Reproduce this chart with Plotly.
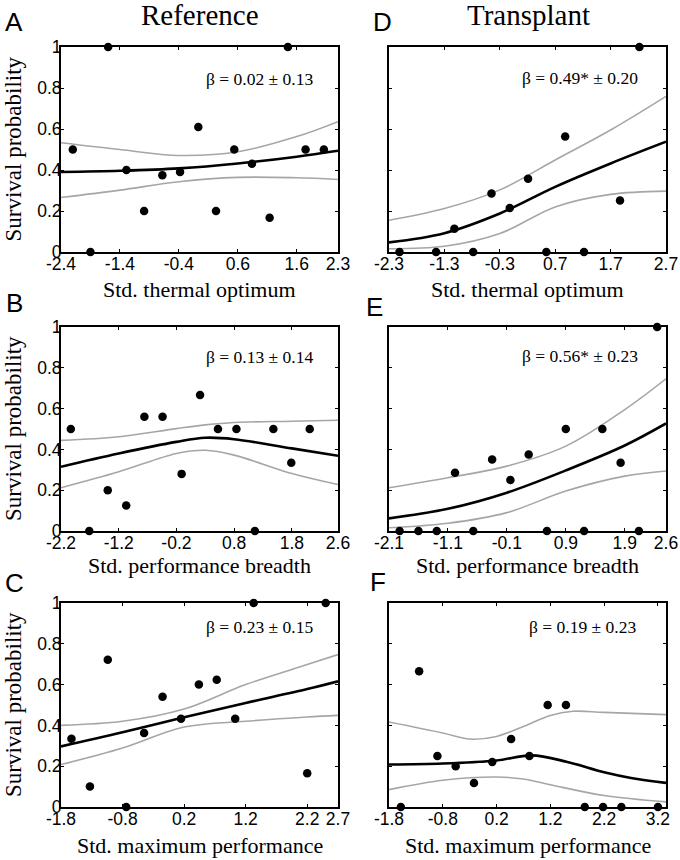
import plotly.graph_objects as go

# ---------------- data ----------------
# Panel A: Reference, thermal optimum
a_x = [-1.60, 1.45, -2.20, -1.90, -1.29, -0.99, -0.68, -0.38, -0.07, 0.23, 0.54, 0.84, 1.14, 1.75, 2.06]
a_y = [1.0, 1.0, 0.5, 0.0, 0.40, 0.20, 0.375, 0.39, 0.61, 0.20, 0.50, 0.43, 0.167, 0.50, 0.50]
a_cx = [-2.4, -1.4, -0.4, 0.6, 1.6, 2.3]
a_fit = [0.39, 0.396, 0.408, 0.432, 0.465, 0.494]
a_up = [0.533, 0.50, 0.471, 0.489, 0.563, 0.636]
a_lo = [0.266, 0.302, 0.343, 0.364, 0.362, 0.354]

# Panel D: Transplant, thermal optimum
d_x = [-2.11, -1.45, -0.78, 0.54, 1.22, 2.22, -1.12, -0.45, -0.12, 0.21, 0.88, 1.87]
d_y = [0.0, 0.0, 0.0, 0.0, 0.0, 1.0, 0.113, 0.285, 0.215, 0.357, 0.563, 0.251]
d_cx = [-2.3, -1.3, -0.3, 0.7, 1.7, 2.7]
d_fit = [0.047, 0.092, 0.188, 0.318, 0.432, 0.538]
d_up = [0.155, 0.212, 0.303, 0.449, 0.595, 0.759]
d_lo = [0.016, 0.028, 0.09, 0.22, 0.281, 0.297]

# Panel B: Reference, performance breadth
b_x = [-2.03, -1.71, -1.39, -1.07, -0.755, -0.44, -0.11, 0.21, 0.52, 0.84, 1.16, 1.48, 1.79, 2.11]
b_y = [0.5, 0.0, 0.2, 0.125, 0.56, 0.56, 0.28, 0.667, 0.5, 0.5, 0.0, 0.5, 0.334, 0.5]
b_cx = [-2.2, -1.2, -0.2, 0.3, 0.8, 1.8, 2.6]
b_fit = [0.315, 0.38, 0.437, 0.457, 0.45, 0.405, 0.369]
b_up = [0.444, 0.462, 0.502, 0.52, 0.532, 0.538, 0.543]
b_lo = [0.212, 0.29, 0.38, 0.396, 0.372, 0.282, 0.228]

# Panel E: Transplant, performance breadth
e_x = [-1.92, -1.60, -1.29, -0.67, 0.58, 1.21, 2.14, 2.45, -0.98, -0.35, -0.04, 0.27, 0.90, 1.52, 1.83]
e_y = [0.0, 0.0, 0.0, 0.0, 0.0, 0.0, 0.0, 1.0, 0.285, 0.351, 0.25, 0.375, 0.5, 0.5, 0.334]
e_cx = [-2.1, -1.1, -0.1, 0.9, 1.9, 2.6]
e_fit = [0.062, 0.109, 0.188, 0.297, 0.419, 0.527]
e_up = [0.212, 0.261, 0.318, 0.416, 0.595, 0.746]
e_lo = [0.016, 0.038, 0.09, 0.196, 0.269, 0.294]

# Panel C: Reference, maximum performance
c_x = [-1.63, -1.33, -1.04, -0.74, -0.45, -0.15, 0.15, 0.44, 0.73, 1.03, 1.33, 2.20, 2.50]
c_y = [0.335, 0.10, 0.722, 0.0, 0.363, 0.541, 0.433, 0.60, 0.624, 0.433, 1.0, 0.165, 1.0]
c_cx = [-1.8, -0.8, 0.2, 1.2, 2.2, 2.7]
c_fit = [0.297, 0.366, 0.44, 0.51, 0.578, 0.616]
c_up = [0.40, 0.42, 0.48, 0.60, 0.698, 0.747]
c_lo = [0.208, 0.289, 0.392, 0.42, 0.441, 0.449]

# Panel F: Transplant, maximum performance
f_x = [-1.58, -1.24, -0.90, -0.56, -0.22, 0.12, 0.47, 0.81, 1.15, 1.49, 1.84, 2.18, 2.52, 3.20]
f_y = [0.0, 0.665, 0.25, 0.2, 0.118, 0.221, 0.333, 0.25, 0.5, 0.5, 0.0, 0.0, 0.0, 0.0]
f_fx = [-1.8, -0.8, 0.2, 0.85, 1.5, 2.2, 2.7, 3.35]
f_fit = [0.208, 0.213, 0.228, 0.253, 0.222, 0.17, 0.142, 0.118]
f_ux = [-1.8, -0.8, -0.3, 0.2, 0.7, 1.2, 1.62, 2.2, 3.35]
f_up = [0.417, 0.363, 0.333, 0.346, 0.395, 0.449, 0.469, 0.464, 0.453]
f_lx = [-1.8, -0.8, 0.2, 0.7, 1.2, 2.2, 3.35]
f_lo = [0.085, 0.131, 0.147, 0.137, 0.109, 0.056, 0.025]

# x axis ranges and tick values
a_range, a_ticks = [-2.4, 2.3], [-2.4, -1.4, -0.4, 0.6, 1.6, 2.3]
d_range, d_ticks = [-2.3, 2.7], [-2.3, -1.3, -0.3, 0.7, 1.7, 2.7]
b_range, b_ticks = [-2.2, 2.6], [-2.2, -1.2, -0.2, 0.8, 1.8, 2.6]
e_range, e_ticks = [-2.1, 2.6], [-2.1, -1.1, -0.1, 0.9, 1.9, 2.6]
c_range, c_ticks = [-1.8, 2.7], [-1.8, -0.8, 0.2, 1.2, 2.2, 2.7]
f_range, f_ticks = [-1.8, 3.35], [-1.8, -0.8, 0.2, 1.2, 2.2, 3.2]

y_ticks = [0, 0.2, 0.4, 0.6, 0.8, 1]
y_ticktext = ["0", "0.2", "0.4", "0.6", "0.8", "1"]

letters = ["A", "D", "B", "E", "C", "F"]
betas = ["β = 0.02 ± 0.13", "β = 0.49* ± 0.20", "β = 0.13 ± 0.14",
         "β = 0.56* ± 0.23", "β = 0.23 ± 0.15", "β = 0.19 ± 0.23"]
xtitles = ["Std. thermal optimum", "Std. thermal optimum", "Std. performance breadth",
           "Std. performance breadth", "Std. maximum performance", "Std. maximum performance"]
col_titles = ["Reference", "Transplant"]
ytitle = "Survival probability"

# ---------------- layout geometry ----------------
W, H = 680, 860
col_px = [(61, 338), (389, 666)]
row_px = [(47, 252), (327, 531), (603, 807)]
xtitle_gap = [37, 34, 38]

def fx(px):
    return px / W

def fy(py):
    return 1 - py / H

SERIF = "Liberation Serif, Times New Roman, serif"
SANS = "Liberation Sans, Arial, sans-serif"

panels = [
    (a_x, a_y, (a_cx, a_fit), (a_cx, a_up), (a_cx, a_lo), a_range, a_ticks),
    (d_x, d_y, (d_cx, d_fit), (d_cx, d_up), (d_cx, d_lo), d_range, d_ticks),
    (b_x, b_y, (b_cx, b_fit), (b_cx, b_up), (b_cx, b_lo), b_range, b_ticks),
    (e_x, e_y, (e_cx, e_fit), (e_cx, e_up), (e_cx, e_lo), e_range, e_ticks),
    (c_x, c_y, (c_cx, c_fit), (c_cx, c_up), (c_cx, c_lo), c_range, c_ticks),
    (f_x, f_y, (f_fx, f_fit), (f_ux, f_up), (f_lx, f_lo), f_range, f_ticks),
]

fig = go.Figure()
layout = dict(width=W, height=H, margin=dict(l=0, r=0, t=0, b=0, pad=0, autoexpand=False),
              paper_bgcolor="white", plot_bgcolor="white", showlegend=False,
              template="none")
annotations = []

for i, (px_, py_, fit, up, lo, xr, xt) in enumerate(panels):
    row, col = divmod(i, 2)
    n = "" if i == 0 else str(i + 1)
    xa, ya = "x" + n, "y" + n
    x0, x1 = col_px[col]
    y0, y1 = row_px[row]
    for (cx, cy), color, width in [(up, "#a6a6a6", 1.6), (lo, "#a6a6a6", 1.6), (fit, "black", 2.6)]:
        fig.add_trace(go.Scatter(x=cx, y=cy, mode="lines", xaxis=xa, yaxis=ya,
                                 line=dict(color=color, width=width, shape="spline", smoothing=1.0),
                                 hoverinfo="skip"))
    fig.add_trace(go.Scatter(x=px_, y=py_, mode="markers", xaxis=xa, yaxis=ya, cliponaxis=False,
                             marker=dict(color="black", size=8.5, line=dict(width=0))))
    axis_common = dict(showline=True, linecolor="black", linewidth=2, mirror="ticks",
                       ticks="inside", ticklen=3, tickcolor="black", tickwidth=1.2,
                       showgrid=False, zeroline=False, layer="below traces", automargin=False,
                       tickfont=dict(family=SANS, size=17.5, color="black"))
    layout["xaxis" + n] = dict(axis_common, domain=[fx(x0), fx(x1)], range=xr,
                               tickvals=xt, ticktext=[f"{v:g}" for v in xt],
                               anchor=ya, ticklabelstandoff=-5)
    layout["yaxis" + n] = dict(axis_common, domain=[fy(y1), fy(y0)], range=[0, 1],
                               tickvals=y_ticks, ticktext=y_ticktext,
                               showticklabels=(col == 0), anchor=xa, ticklabelstandoff=-6)
    # beta annotation
    beta_pos = [(0.715, 0.845), (0.69, 0.85), (0.715, 0.855), (0.69, 0.858), (0.715, 0.884), (0.70, 0.884)][i]
    annotations.append(dict(text=betas[i], xref=xa + " domain", yref=ya + " domain",
                            x=beta_pos[0], y=beta_pos[1], showarrow=False,
                            xanchor="center", yanchor="middle",
                            font=dict(family=SERIF, size=17.5, color="black")))
    # x axis title
    annotations.append(dict(text=xtitles[i], xref="paper", yref="paper",
                            x=fx((x0 + x1) / 2), y=fy(y1 + xtitle_gap[row]), showarrow=False,
                            xanchor="center", yanchor="middle",
                            font=dict(family=SERIF, size=22, color="black")))
    # y axis title (left column only)
    if col == 0:
        annotations.append(dict(text=ytitle, xref="paper", yref="paper",
                                x=fx(13), y=fy((y0 + y1) / 2), showarrow=False, textangle=-90,
                                xanchor="center", yanchor="middle",
                                font=dict(family=SERIF, size=23, color="black")))

# panel letters
letter_pos = [(14, 22), (382, 22), (14, 303), (374, 307), (14, 583), (378, 582)]
for L, (lx, ly) in zip(letters, letter_pos):
    annotations.append(dict(text=L, xref="paper", yref="paper", x=fx(lx), y=fy(ly),
                            showarrow=False, xanchor="center", yanchor="middle",
                            font=dict(family=SANS, size=26, color="black")))

# column titles
for t, cx in zip(col_titles, [200, 528]):
    annotations.append(dict(text=t, xref="paper", yref="paper", x=fx(cx), y=fy(15),
                            showarrow=False, xanchor="center", yanchor="middle",
                            font=dict(family=SERIF, size=29, color="black")))

layout["annotations"] = annotations
fig.update_layout(**layout)
fig.write_html("out.html", config={"displayModeBar": False},
               post_script="document.body.style.margin='0';document.body.style.padding='0';")
